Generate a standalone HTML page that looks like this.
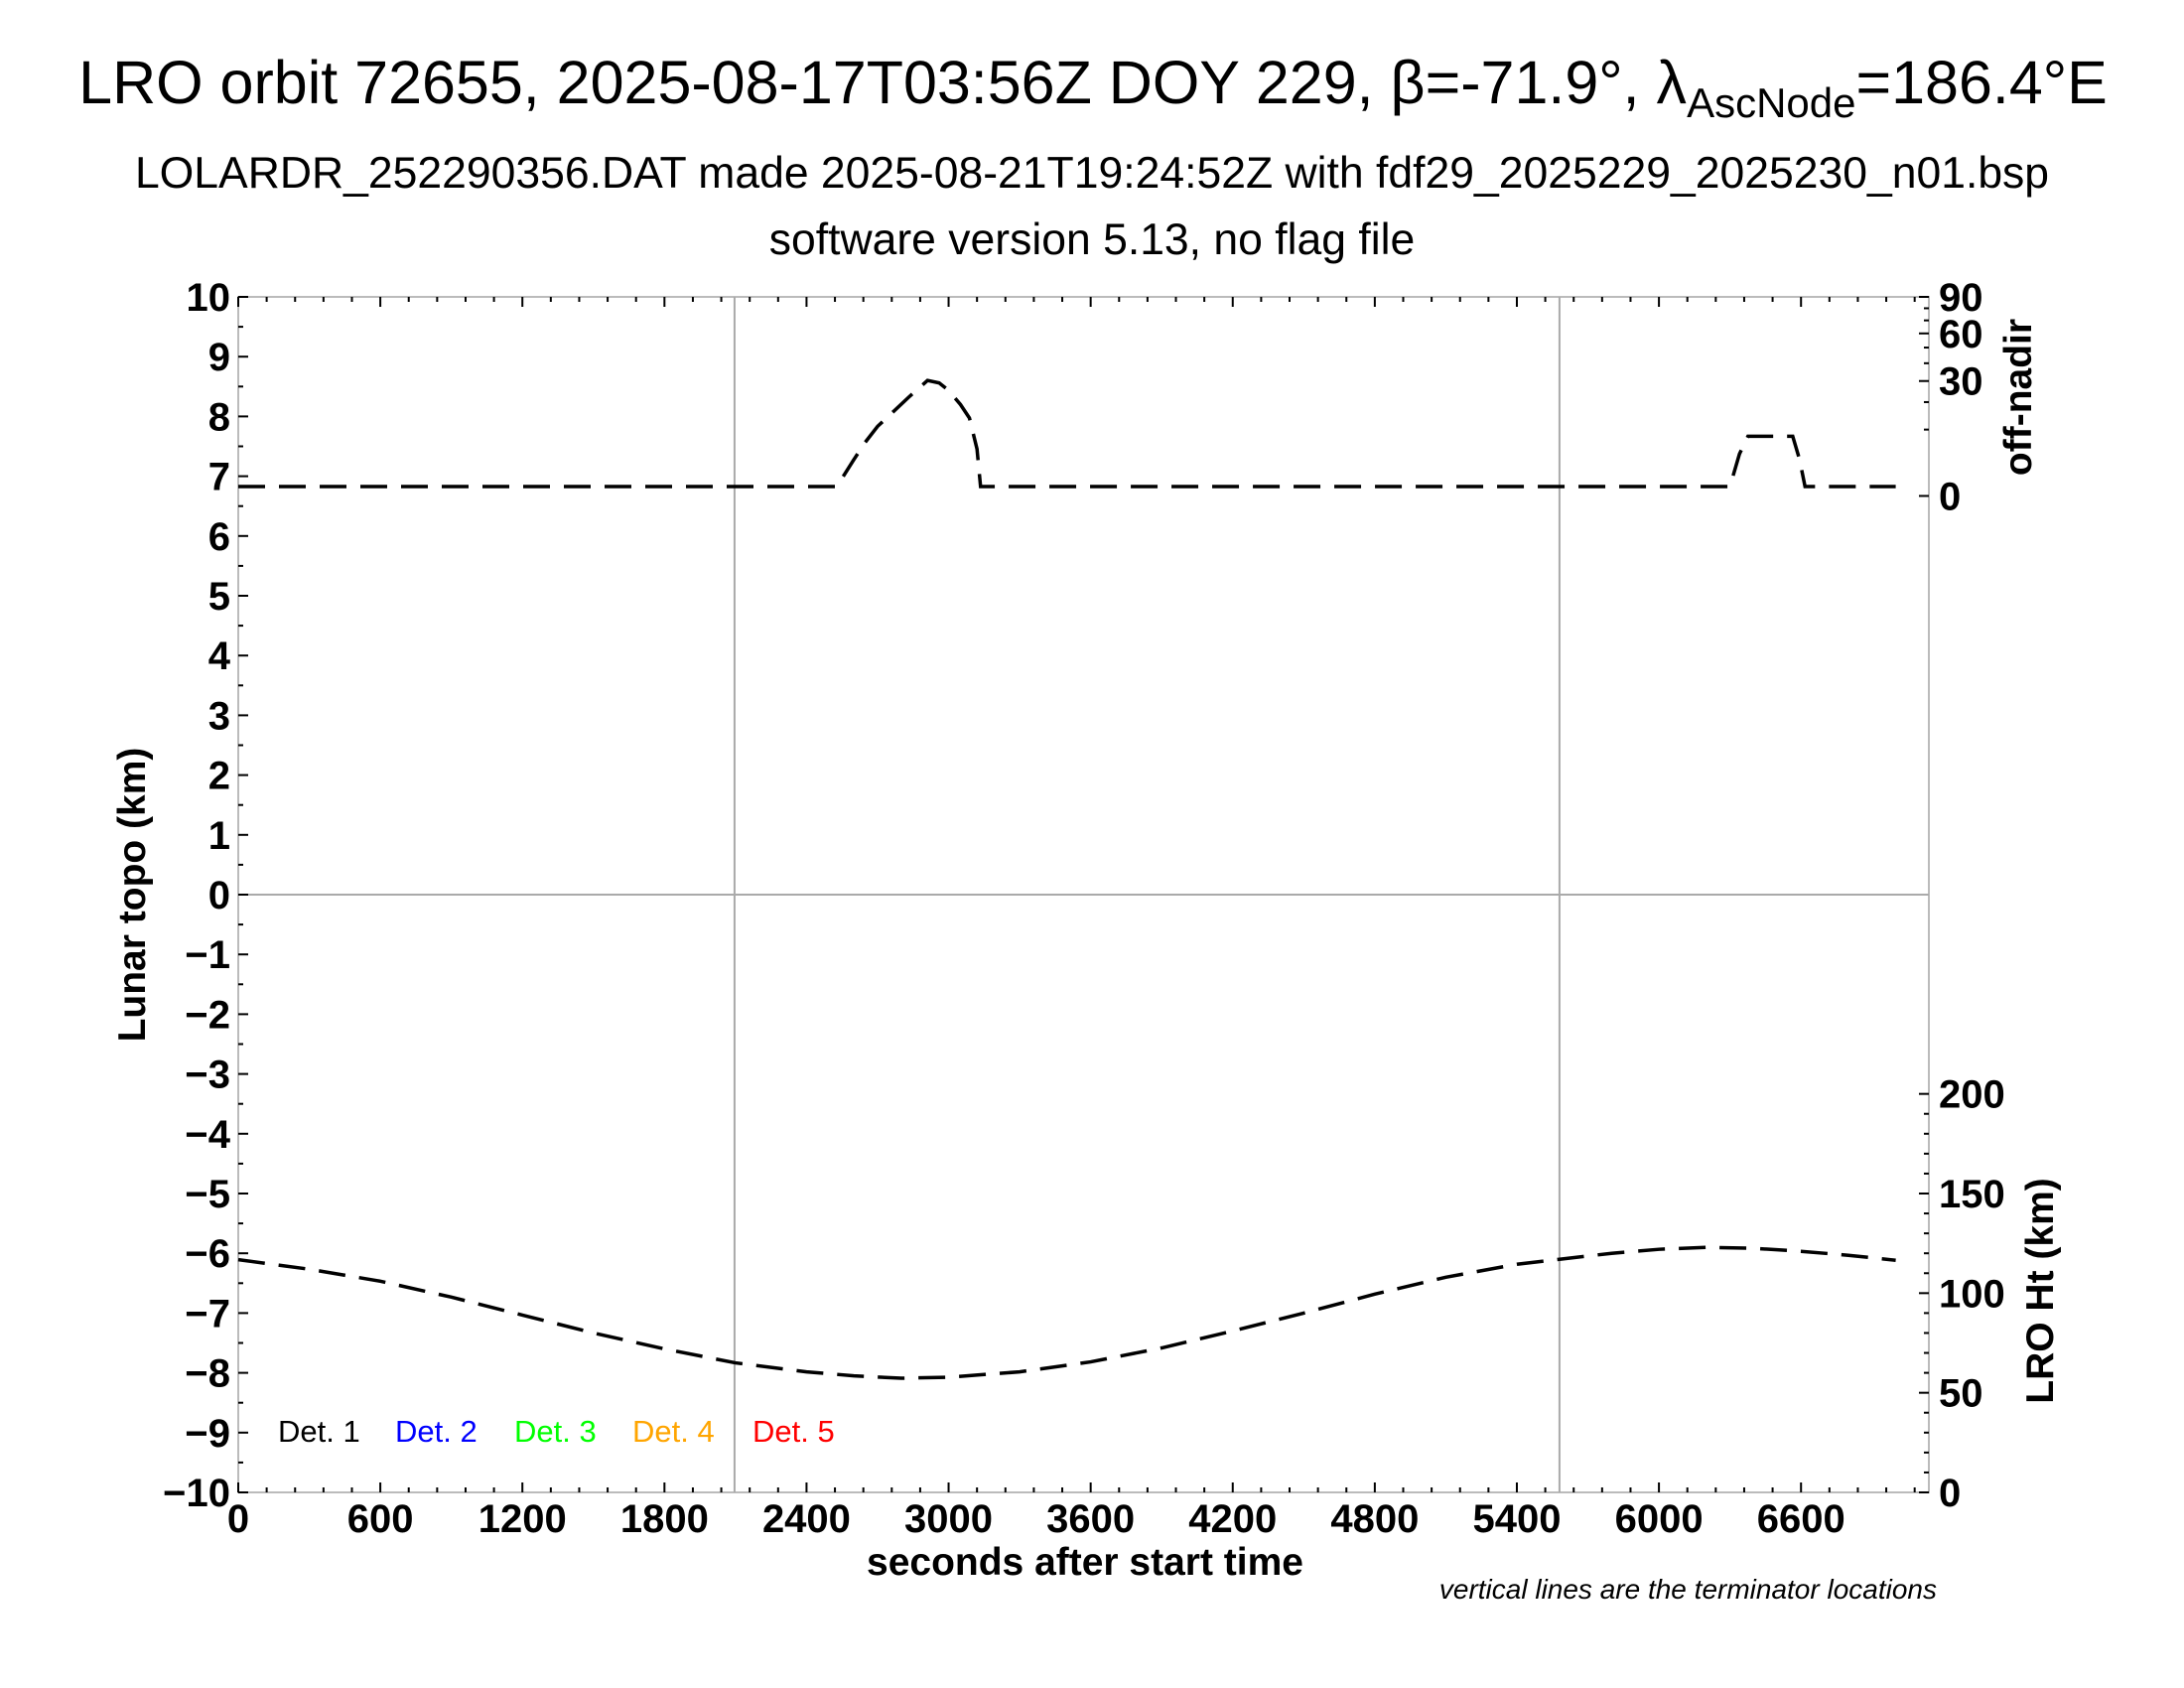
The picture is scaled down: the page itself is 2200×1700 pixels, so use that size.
<!DOCTYPE html>
<html><head><meta charset="utf-8"><style>
html,body{margin:0;padding:0;background:#fff;}
svg{display:block;font-family:"Liberation Sans",sans-serif;}
</style></head><body>
<svg id="chart" width="2200" height="1700" viewBox="0 0 2200 1700" xmlns="http://www.w3.org/2000/svg">
<text x="1101" y="104" font-size="61" text-anchor="middle">LRO orbit 72655, 2025-08-17T03:56Z DOY 229, β=-71.9°, λ<tspan font-size="42" dy="14">AscNode</tspan><tspan dy="-14">=186.4°E</tspan></text>
<text x="1100" y="189" font-size="44.5" text-anchor="middle">LOLARDR_252290356.DAT made 2025-08-21T19:24:52Z with fdf29_2025229_2025230_n01.bsp</text>
<text x="1100" y="256" font-size="44.5" text-anchor="middle">software version 5.13, no flag file</text>
<g id="plot"></g>
<text x="1093" y="1586" font-size="39" font-weight="bold" text-anchor="middle">seconds after start time</text>
<text transform="translate(146,901) rotate(-90)" font-size="39" font-weight="bold" text-anchor="middle">Lunar topo (km)</text>
<text transform="translate(2046,400) rotate(-90)" font-size="39" font-weight="bold" text-anchor="middle">off-nadir</text>
<text transform="translate(2068,1300) rotate(-90)" font-size="39" font-weight="bold" text-anchor="middle">LRO Ht (km)</text>
<text x="1951" y="1610" font-size="28" font-style="italic" text-anchor="end">vertical lines are the terminator locations</text>
<g font-size="31">
<text x="280" y="1452" fill="#000">Det. 1</text>
<text x="398" y="1452" fill="#0000ff">Det. 2</text>
<text x="518" y="1452" fill="#00ff00">Det. 3</text>
<text x="637" y="1452" fill="#ffa500">Det. 4</text>
<text x="758" y="1452" fill="#ff0000">Det. 5</text>
</g>
</svg>
<script>
const xTicks = [0,600,1200,1800,2400,3000,3600,4200,4800,5400,6000,6600];
const yTicks = [10,9,8,7,6,5,4,3,2,1,0,-1,-2,-3,-4,-5,-6,-7,-8,-9,-10];
const terminators = [2096,5580];
const nadirTicks = [0,30,60,90];
const htTicks = [0,50,100,150,200];
const nadirTimes = [0,2528,2600,2646,2700,2764,2830,2911,2960,2999,3050,3088,3120,3135,3160,6290,6300,6340,6376,6405,6565,6594,6617,6640,7000];
const nadirVals  = [0.2,0.2,3,6.4,11,15.9,22,30.3,29,25.4,19,13.8,5,0.2,0.2,0.2,0.2,4,8.1,8.1,8.1,3,0.2,0.2,0.2];
const htTimes = [0,300,600,900,1200,1500,1800,2100,2400,2600,2800,3000,3300,3600,3900,4200,4500,4800,5100,5400,5580,5800,6000,6200,6400,6600,6800,7000];
const htVals  = [116.8,112,106,98,89,80,72,65,60.5,58.5,57.3,57.8,60.5,65.5,72.5,81,90,99.5,108,114.5,117,120,122,123,122.5,121,119,116.5];

const L=240,R=1943,T=299,B=1503,XMAX=7140;
const sx=t=>L+(R-L)*t/XMAX;
const sy=v=>B-(B-T)*(v+10)/20;
const sNadir=a=>sy(6.67+3.33*Math.sqrt(Math.max(a,0)/90));
const sHt=h=>sy(-10+h/30);
const NS="http://www.w3.org/2000/svg";
const g=document.getElementById('plot');
function mk(tag,attrs){const e=document.createElementNS(NS,tag);for(const k in attrs)e.setAttribute(k,attrs[k]);g.appendChild(e);return e;}

let e=mk('rect',{x:L,y:T,width:R-L,height:B-T,fill:'none',stroke:'#bbb','stroke-width':2});


e=mk('line',{x1:L,x2:R,y1:sy(0),y2:sy(0),stroke:'#aaa','stroke-width':2});


terminators.forEach(t=>{
  const l=mk('line',{x1:sx(t),x2:sx(t),y1:T,y2:B,stroke:'#aaa','stroke-width':2});
  
  
});
for(let t=0;t<=XMAX;t+=120){
  const big=t%600===0;
  mk('line',{x1:sx(t),x2:sx(t),y1:B,y2:B-(big?10:5),stroke:'#000','stroke-width':2});
  mk('line',{x1:sx(t),x2:sx(t),y1:T,y2:T+(big?10:5),stroke:'#000','stroke-width':2});
}
xTicks.forEach(t=>{
  const tx=mk('text',{x:sx(t),y:B+40,'font-size':40,'font-weight':'bold','text-anchor':'middle'});
  tx.textContent=t;
  
  
});
for(let v=-10;v<=10;v+=0.5){
  mk('line',{x1:L,x2:L+(v%1===0?10:5),y1:sy(v),y2:sy(v),stroke:'#000','stroke-width':2});
}
yTicks.forEach(v=>{
  const tx=mk('text',{x:L-8,y:sy(v)+14,'font-size':40,'font-weight':'bold','text-anchor':'end'});
  tx.textContent=v<0?'\u2212'+Math.abs(v):v;
  
  
});
for(let a=0;a<=90;a+=10){mk('line',{x1:R,x2:R-(a%30===0?10:5),y1:sNadir(a),y2:sNadir(a),stroke:'#000','stroke-width':2});}
nadirTicks.forEach(a=>{
  const tx=mk('text',{x:R+10,y:sNadir(a)+14,'font-size':40,'font-weight':'bold'});
  tx.textContent=a;
  
  
});
for(let h=0;h<=200;h+=10){mk('line',{x1:R,x2:R-(h%50===0?10:5),y1:sHt(h),y2:sHt(h),stroke:'#000','stroke-width':2});}
htTicks.forEach(h=>{
  const tx=mk('text',{x:R+10,y:sHt(h)+14,'font-size':40,'font-weight':'bold'});
  tx.textContent=h;
  
  
});
let p=mk('polyline',{points:nadirTimes.map((t,i)=>sx(t)+','+sNadir(nadirVals[i])).join(' '),fill:'none',stroke:'#000','stroke-width':3.5,'stroke-dasharray':'27,14'});


p=mk('polyline',{points:htTimes.map((t,i)=>sx(t)+','+sHt(htVals[i])).join(' '),fill:'none',stroke:'#000','stroke-width':3.5,'stroke-dasharray':'27,14'});


</script>
</body></html>
